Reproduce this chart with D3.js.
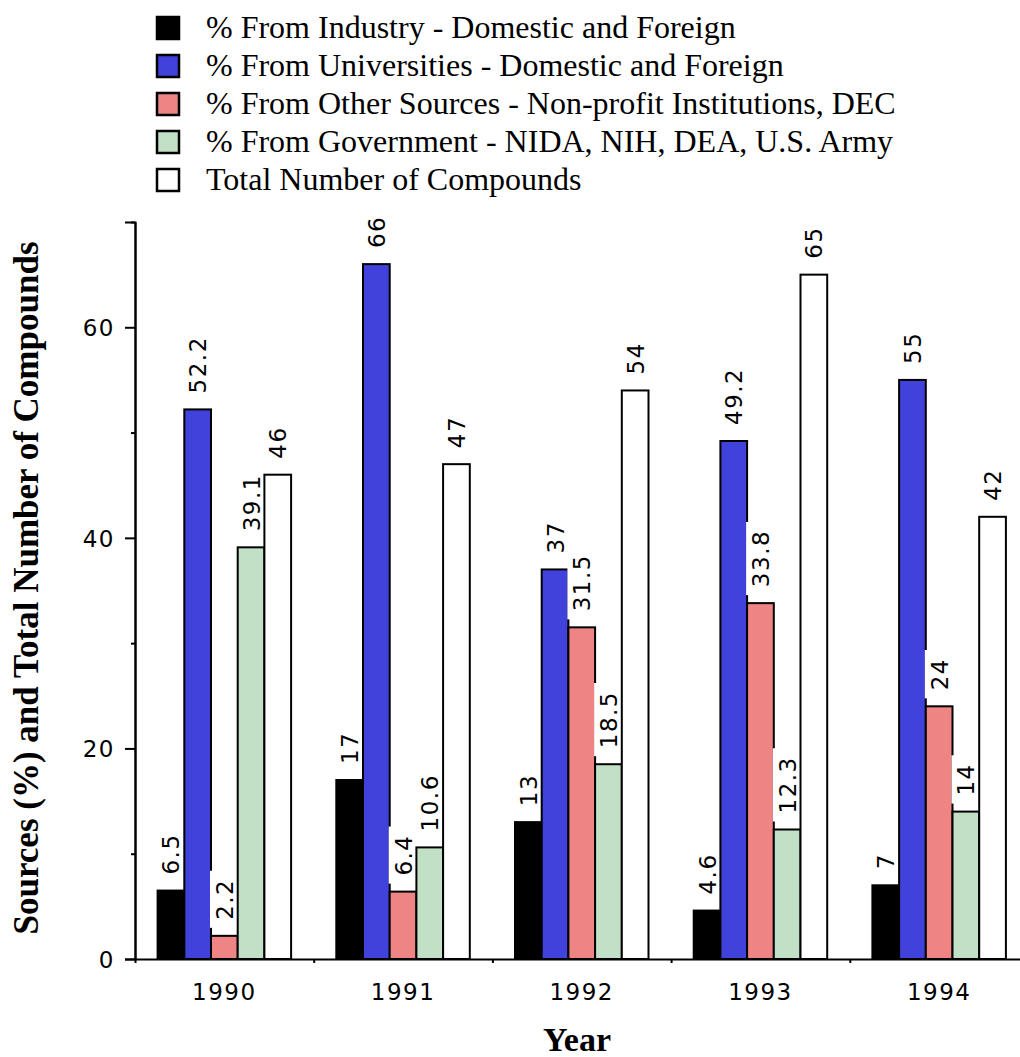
<!DOCTYPE html>
<html>
<head>
<meta charset="utf-8">
<script src="https://cdn.jsdelivr.net/npm/d3@7"></script>
<style>
  body { margin: 0; background: #fff; }
</style>
</head>
<body>
<div id="chart"></div>
<script>
// data
const years = ["1990", "1991", "1992", "1993", "1994"];
const industry = [6.5, 17, 13, 4.6, 7];
const universities = [52.2, 66, 37, 49.2, 55];
const otherSources = [2.2, 6.4, 31.5, 33.8, 24];
const government = [39.1, 10.6, 18.5, 12.3, 14];
const totalCompounds = [46, 47, 54, 65, 42];
const seriesNames = [
  "% From Industry - Domestic and Foreign",
  "% From Universities - Domestic and Foreign",
  "% From Other Sources - Non-profit Institutions, DEC",
  "% From Government - NIDA, NIH, DEA, U.S. Army",
  "Total Number of Compounds"
];
const seriesColors = ["#000000", "#4141dc", "#ef8484", "#c1e0c5", "#ffffff"];
const yMajorTicks = [0, 20, 40, 60];
const yMinorTicks = [10, 30, 50, 70];

const numFont = '"DejaVu Sans", sans-serif';
const serifFont = '"Liberation Serif", "Times New Roman", "DejaVu Serif", serif';

const series = [industry, universities, otherSources, government, totalCompounds]
  .map((vals, i) => ({name: seriesNames[i], color: seriesColors[i], key: "s" + i, values: vals}));

const width = 1020, height = 1057;
const svg = d3.select("#chart").append("svg")
  .attr("width", width)
  .attr("height", height);

function numText(sel) {
  sel.style("font-family", numFont)
    .style("font-size", "23px")
    .style("letter-spacing", "1.5px")
    .attr("fill", "#000");
}

// scales
const x0 = d3.scaleBand().domain(years).range([135, 1028.5]);
const groupW = 133.5;
const x1 = d3.scaleBand().domain(series.map(s => s.key)).range([0, groupW]);
const groupOffset = (x0.bandwidth() - groupW) / 2;
const y = d3.scaleLinear().domain([0, 70]).range([959, 222]);

// legend
const legend = svg.append("g");
series.forEach((s, i) => {
  const cy = 28 + i * 38;
  legend.append("rect")
    .attr("x", 157).attr("y", cy - 11)
    .attr("width", 22).attr("height", 22)
    .attr("fill", s.color)
    .attr("stroke", "#000").attr("stroke-width", 2.5);
  legend.append("text")
    .attr("x", 206).attr("y", cy + 10)
    .style("font-family", serifFont)
    .style("font-size", "32px")
    .attr("fill", "#000")
    .text(s.name);
});

// bars, each series followed by its value labels
const plot = svg.append("g");
series.forEach(s => {
  s.values.forEach((v, j) => {
    const bx = x0(years[j]) + groupOffset + x1(s.key);
    const bw = x1.bandwidth();
    plot.append("rect")
      .attr("x", bx).attr("y", y(v))
      .attr("width", bw).attr("height", y(0) - y(v))
      .attr("fill", s.color)
      .attr("stroke", "#000").attr("stroke-width", 2);

    const box = plot.append("rect").attr("fill", "#fff");
    const label = plot.append("text")
      .call(numText)
      .attr("transform", `translate(${bx + bw / 2 + 8.5},${y(v) - 16}) rotate(-90)`)
      .text(v);
    const len = label.node().getComputedTextLength();
    box.attr("x", bx - 1).attr("width", bw)
      .attr("y", y(v) - 24 - len).attr("height", len + 16);
  });
});

// y axis: major ticks with labels, minor ticks without
const yAxis = svg.append("g").attr("transform", "translate(135,0)");
yAxis.call(d3.axisLeft(y).tickValues(yMajorTicks).tickSize(10).tickPadding(10).tickFormat(d3.format("d")));
const yMinor = svg.append("g").attr("transform", "translate(135,0)");
yMinor.call(d3.axisLeft(y).tickValues(yMinorTicks).tickSize(4).tickSizeOuter(0).tickFormat(""));
svg.selectAll(".domain, .tick line").attr("stroke", "#000").attr("stroke-width", 2);
yAxis.selectAll("text").call(numText).attr("dy", "0.36em");

// x axis with ticks at the band edges
const xEdges = years.map(yr => x0(yr));
const xAxisScale = d3.scaleLinear().domain([0, 1]).range([135, 1028.5]);
const xAxis = svg.append("g").attr("transform", "translate(0,959)");
xAxis.call(d3.axisBottom(xAxisScale).tickValues(xEdges.map(e => xAxisScale.invert(e))).tickSize(4).tickSizeOuter(0).tickFormat(""));
xAxis.selectAll("path, line").attr("stroke", "#000").attr("stroke-width", 2);

svg.append("g").selectAll("text")
  .data(years)
  .join("text")
  .call(numText)
  .attr("text-anchor", "middle")
  .attr("x", d => x0(d) + x0.bandwidth() / 2)
  .attr("y", 1000)
  .text(d => d);

// axis titles
svg.append("text")
  .attr("text-anchor", "middle")
  .attr("x", 577).attr("y", 1051)
  .style("font-family", serifFont)
  .style("font-size", "34px").style("font-weight", "bold")
  .text("Year");

svg.append("text")
  .attr("text-anchor", "middle")
  .attr("transform", "translate(38,588) rotate(-90)")
  .style("font-family", serifFont)
  .style("font-size", "35px").style("font-weight", "bold")
  .text("Sources (%) and Total Number of Compounds");
</script>
</body>
</html>
